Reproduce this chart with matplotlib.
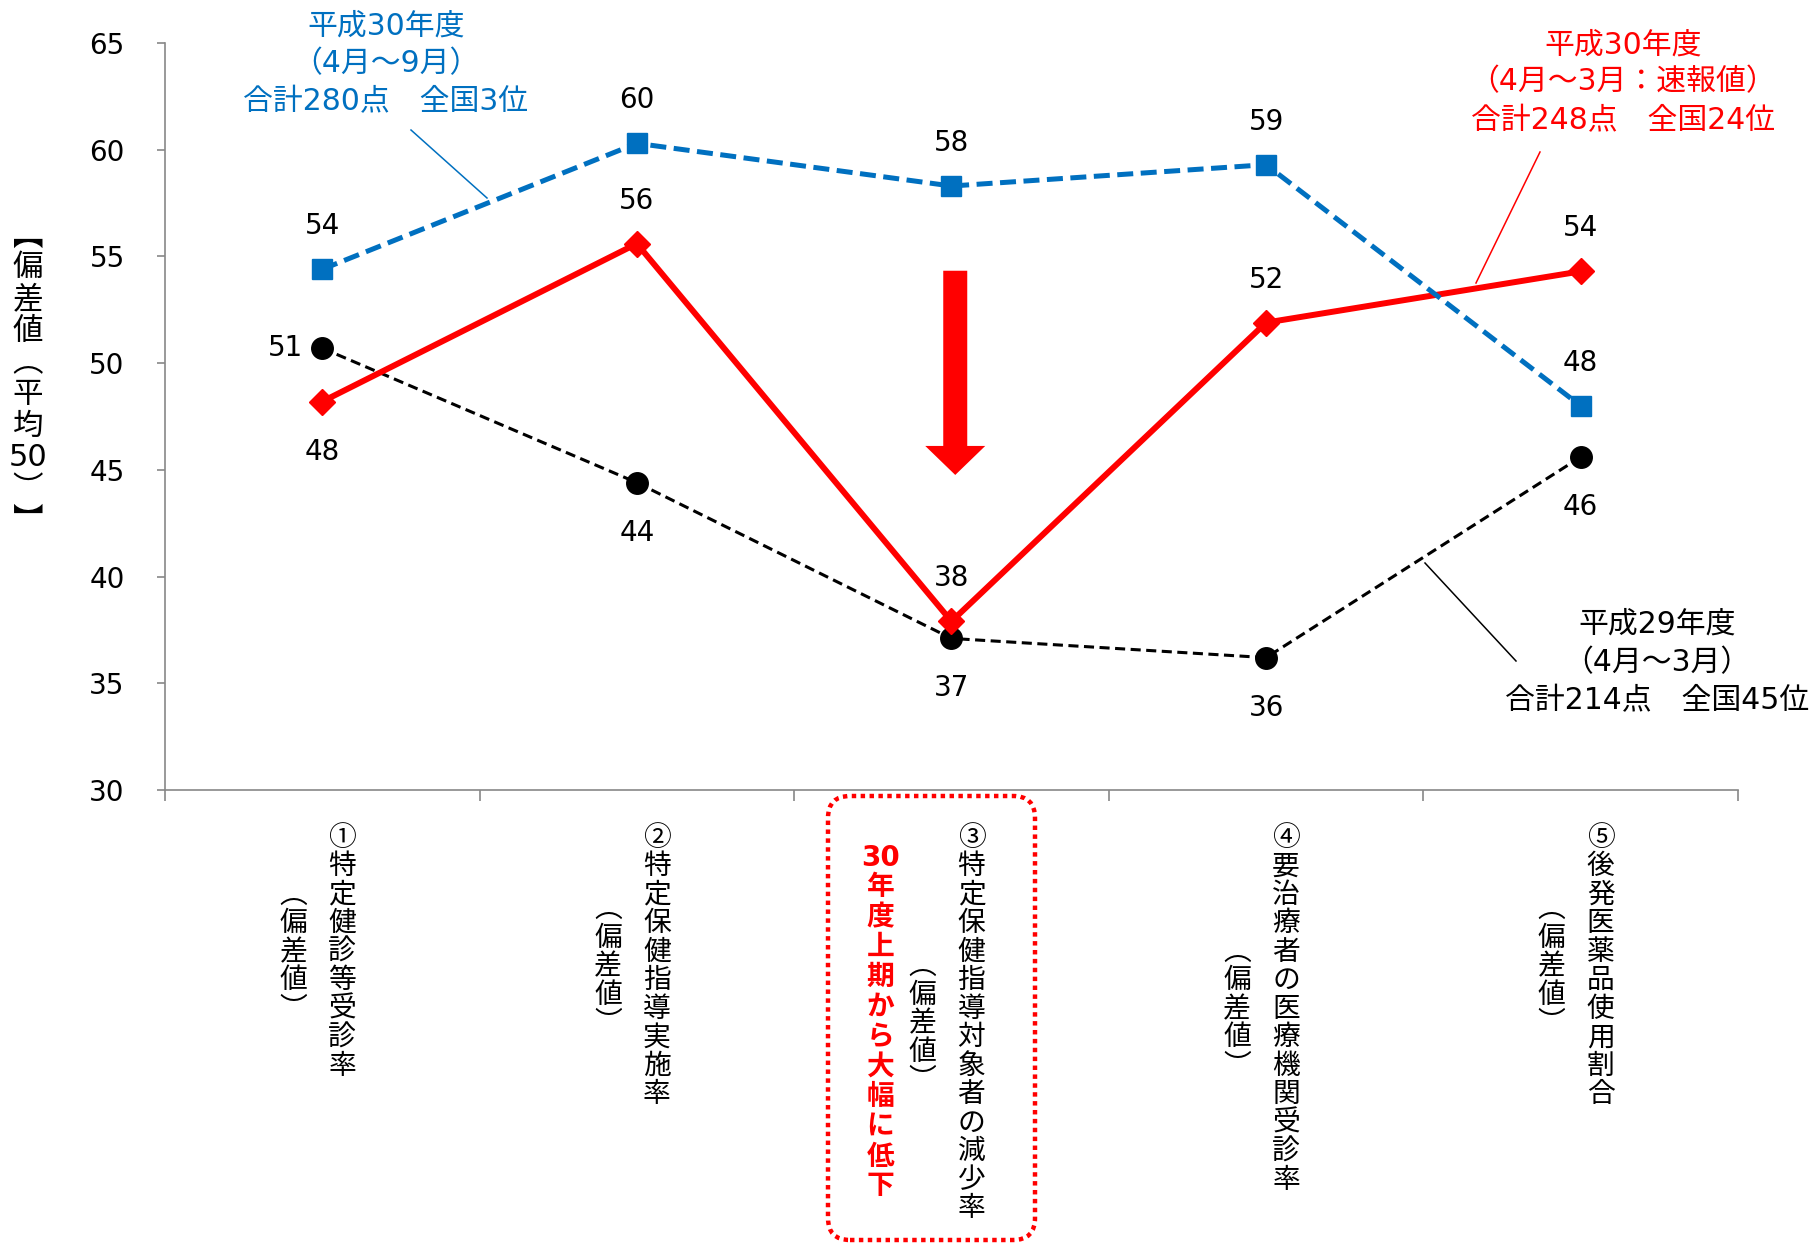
import re
import numpy as np
import matplotlib.pyplot as plt
from matplotlib.patches import FancyBboxPatch
from matplotlib.lines import Line2D
from matplotlib.transforms import IdentityTransform

plt.rcParams['font.family'] = ['DejaVu Sans', 'Noto Sans CJK JP']

#--------- data ---------
categories = ['①特定健診等受診率', '②特定保健指導実施率', '③特定保健指導対象者の減少率',
              '④要治療者の医療機関受診率', '⑤後発医薬品使用割合']
sub_label = '（偏差値）'
y_label = '【偏差値（平均50）】'

h30_half = [54.4, 60.3, 58.3, 59.3, 48.0]   # 平成30年度 4月~9月
h30_full = [48.2, 55.6, 37.9, 51.9, 54.3]   # 平成30年度 4月~3月 速報値
h29_full = [50.7, 44.4, 37.1, 36.2, 45.6]   # 平成29年度 4月~3月

note_blue = ['平成30年度', '（4月～9月）', '合計280点　全国3位']
note_red = ['平成30年度', '（4月～3月：速報値）', '合計248点　全国24位']
note_black = ['平成29年度', '（4月～3月）', '合計214点　全国45位']
note_drop = '30年度上期から大幅に低下'

BLUE = '#0070C0'
RED = '#FF0000'
W, H = 1817, 1244
CJK = ['Noto Sans CJK JP', 'DejaVu Sans']

vert = str.maketrans({'（': '︵', '）': '︶', '【': '︻', '】': '︼'})


def cells(s):
    return re.findall(r'\d+|.', s.translate(vert))


#--------- figure ---------
fig = plt.figure(figsize=(W / 100, H / 100), dpi=100)
ax = fig.add_axes([0.0908, 0.3650, 0.8657, 0.6004])
ID = IdentityTransform()


def vtext(x, top, cs, size, pitch, **kw):
    # stacked characters, top to bottom (pixel coords from top-left)
    em = size * 100 / 72
    for k, c in enumerate(cs):
        base = top + k * pitch + (pitch - em) / 2 + 0.88 * em
        fig.text(x, H - base, c, transform=ID, ha='center', va='baseline',
                 fontsize=size, **kw)


def htext(x, ys, lines, color, size=21.5):
    for yy, s in zip(ys, lines):
        fig.text(x, H - yy, s, transform=ID, ha='center', va='center',
                 fontsize=size, color=color)


def leader(p0, p1, color):
    fig.add_artist(Line2D([p0[0], p1[0]], [H - p0[1], H - p1[1]],
                          transform=ID, color=color, lw=1.1))


x = np.arange(len(categories))

ax.plot(x, h29_full, color='black', lw=2.2, ls=(0, (3.3, 1.8)),
        marker='o', ms=15.5, zorder=3)
ax.plot(x, h30_full, color=RED, lw=4.3, marker='D', ms=13, zorder=4)
ax.plot(x, h30_half, color=BLUE, lw=3.6, ls=(0, (3.2, 1.5)),
        marker='s', ms=14.5, zorder=5)

# data labels
offs = {'above': (0, 31, 'center'), 'below': (0, -36, 'center'), 'left': (-14, 0, 'right')}
pos_half = ['above'] * 5
pos_full = ['below', 'above', 'above', 'above', 'above']
pos_29 = ['left', 'below', 'below', 'below', 'below']
for vals, pos in [(h30_half, pos_half), (h30_full, pos_full), (h29_full, pos_29)]:
    for xi, v, p in zip(x, vals, pos):
        dx, dy, ha = offs[p]
        ax.annotate('%d' % round(v), (xi, v), xytext=(dx, dy), textcoords='offset points',
                    ha=ha, va='center', fontsize=20, zorder=6)

# big red arrow
ax.arrow(2.012, 54.33, 0, 44.76 - 54.33, width=0.0763, head_width=0.1907,
         head_length=1.36, length_includes_head=True, fc=RED, ec='none', zorder=6)

ax.set_xlim(-0.5, 4.5)
ax.set_ylim(30, 65)
ax.set_xticks(np.arange(-0.5, 5, 1))
ax.set_xticklabels([])
ax.set_yticks(np.arange(30, 66, 5))
for s in ['top', 'right']:
    ax.spines[s].set_visible(False)
for s in ['left', 'bottom']:
    ax.spines[s].set_color('#888888')
    ax.spines[s].set_linewidth(1.2)
ax.tick_params(axis='y', length=6, width=1.2, color='#888888', pad=23, labelsize=20)
ax.tick_params(axis='x', length=8, width=1.2, color='#888888')

# y label (vertical)
vtext(28, 217, cells(y_label), 22, 31.7)

# category labels (vertical, two columns)
pitch = 28.5
for i, cat in enumerate(categories):
    cx = ax.transData.transform((i, 0))[0]
    c1 = cells(cat)
    vtext(cx + 20, 821, c1, 20, pitch, family=CJK)
    c2 = cells(sub_label)
    mid = 821 + len(c1) * pitch / 2
    vtext(cx - 29, mid - len(c2) * pitch / 2, c2, 20, pitch, family=CJK)

# highlight for category 3
cx = ax.transData.transform((2, 0))[0]
vtext(cx - 71, 840, cells(note_drop), 20, 29.9, color=RED, fontweight='bold')
fig.add_artist(FancyBboxPatch((828, H - 1240), 207, 444, boxstyle='round,pad=0,rounding_size=22',
                              transform=ID, fill=False, ec=RED, lw=3.2, ls=(0, (1, 1))))

# series notes
htext(386, [26, 64, 102], note_blue, BLUE)
leader((411, 130), (487, 198), BLUE)
htext(1623, [45, 82, 121], note_red, RED)
leader((1540, 152), (1476, 283), RED)
htext(1657, [624, 663, 701], note_black, 'black')
leader((1425, 563), (1516, 661), 'black')

fig.savefig('out.png', dpi=100)
